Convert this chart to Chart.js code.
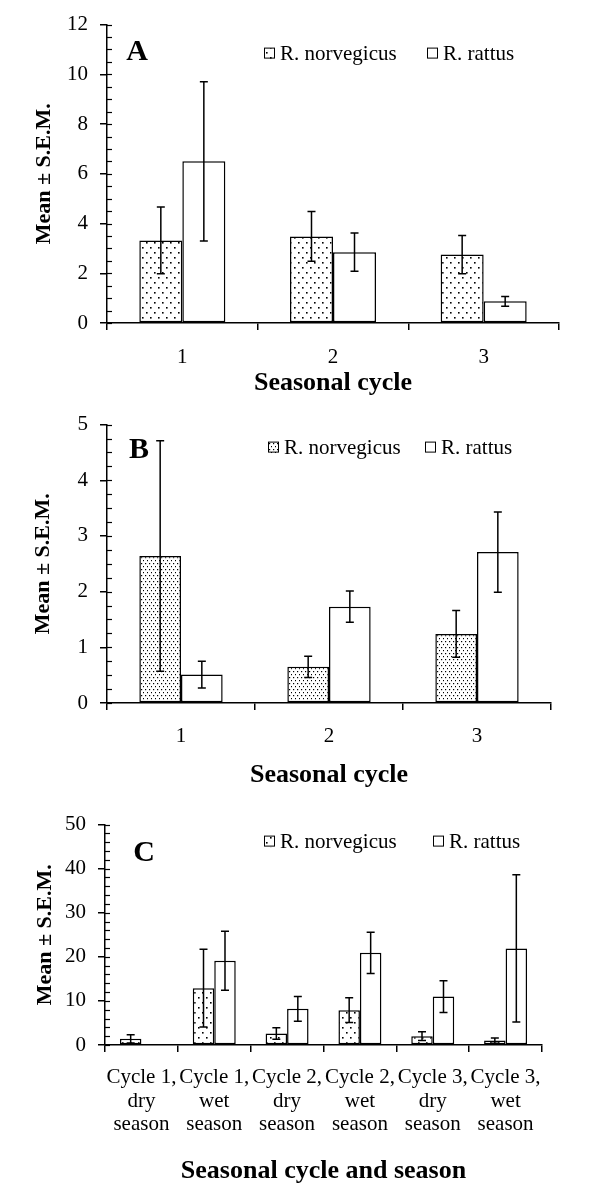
<!DOCTYPE html>
<html><head><meta charset="utf-8">
<script src="https://cdn.jsdelivr.net/npm/chart.js@4.4.1/dist/chart.umd.min.js"></script>
<style>
html,body{margin:0;padding:0;background:#fff;}
#wrap{position:relative;width:600px;height:1198px;overflow:hidden;}
canvas{position:absolute;left:0;}
</style></head><body>
<div id="wrap">
<canvas id="cA" width="600" height="400" style="top:0px"></canvas>
<canvas id="cB" width="600" height="400" style="top:400px"></canvas>
<canvas id="cC" width="600" height="398" style="top:800px"></canvas>
</div>
<script>
// ---------- DATA ----------
const seriesNames = ['R. norvegicus', 'R. rattus'];
const yAxisTitle = 'Mean \u00B1 S.E.M.';

// Panel A
const cyclesA = ['1', '2', '3'];
const norvA = [3.32, 3.48, 2.75];
const norvSemA = [1.34, 1.0, 0.77];
const rattusA = [6.5, 2.85, 0.87];
const rattusSemA = [3.2, 0.77, 0.2];
const yMajorA = [0, 2, 4, 6, 8, 10, 12];
const yMinorStepA = 0.5;

// Panel B
const cyclesB = ['1', '2', '3'];
const norvB = [2.64, 0.65, 1.24];
const norvSemB = [2.07, 0.19, 0.42];
const rattusB = [0.51, 1.73, 2.71];
const rattusSemB = [0.24, 0.28, 0.72];
const yMajorB = [0, 1, 2, 3, 4, 5];
const yMinorStepB = 0.25;

// Panel C
const seasonsC = [
  ['Cycle 1,', 'dry', 'season'],
  ['Cycle 1,', 'wet', 'season'],
  ['Cycle 2,', 'dry', 'season'],
  ['Cycle 2,', 'wet', 'season'],
  ['Cycle 3,', 'dry', 'season'],
  ['Cycle 3,', 'wet', 'season']
];
const norvC = [1.4, 12.9, 2.6, 7.9, 2.0, 1.0];
const norvSemC = [0.95, 8.8, 1.3, 2.8, 1.0, 0.6];
const rattusC = [null, 19.1, 8.2, 20.9, 11.0, 21.9];
const rattusSemC = [null, 6.7, 2.8, 4.7, 3.6, 16.7];
const yMajorC = [0, 10, 20, 30, 40, 50];
const yMinorStepC = 2;

// ---------- STYLE HELPERS ----------
const SERIF = '"Liberation Serif", "Times New Roman", serif';

function dotPattern(w, h, dots, r) {
  const c = document.createElement('canvas');
  c.width = w; c.height = h;
  const g = c.getContext('2d');
  g.fillStyle = '#fff';
  g.fillRect(0, 0, w, h);
  g.fillStyle = '#000';
  dots.forEach(d => { g.fillRect(d[0], d[1], r, r); });
  return g.createPattern(c, 'repeat');
}
const sparseDots = dotPattern(8, 10, [[2, 2], [6, 7]], 1.6);
const denseDots = dotPattern(4, 6, [[1, 1], [3, 4]], 1.2);

const errorBars = {
  id: 'errorBars',
  afterDatasetsDraw(chart) {
    const g = chart.ctx;
    const ys = chart.scales.y;
    g.save();
    g.strokeStyle = '#000';
    g.lineWidth = 1.5;
    chart.data.datasets.forEach((ds, i) => {
      const meta = chart.getDatasetMeta(i);
      meta.data.forEach((bar, j) => {
        const v = ds.data[j], s = ds.sem[j];
        if (v == null || s == null) return;
        const yHi = ys.getPixelForValue(v + s);
        const yLo = ys.getPixelForValue(Math.max(0, v - s));
        const x = bar.x, cw = 4;
        g.beginPath();
        g.moveTo(x, yHi); g.lineTo(x, yLo);
        g.moveTo(x - cw, yHi); g.lineTo(x + cw, yHi);
        g.moveTo(x - cw, yLo); g.lineTo(x + cw, yLo);
        g.stroke();
      });
    });
    g.restore();
  }
};

const panelDecor = {
  id: 'panelDecor',
  afterDraw(chart, args, opts) {
    const g = chart.ctx;
    const a = chart.chartArea;
    const ys = chart.scales.y;
    g.save();
    // inner (minor + major) tick marks
    g.strokeStyle = '#000';
    g.lineWidth = 1.2;
    ys.ticks.forEach(t => {
      const y = Math.round(ys.getPixelForValue(t.value)) + 0.5;
      g.beginPath();
      g.moveTo(a.left, y); g.lineTo(a.left + 5, y);
      g.stroke();
    });
    // panel letter
    g.fillStyle = '#000';
    g.font = 'bold 30px ' + SERIF;
    g.textAlign = 'center';
    g.textBaseline = 'middle';
    g.fillText(opts.letter, a.left + opts.letterX, a.top + opts.letterY);
    // legend
    g.font = '21px ' + SERIF;
    g.textAlign = 'left';
    chart.data.datasets.forEach((ds, i) => {
      const bx = a.left + opts.legendX[i];
      const by = a.top + opts.legendY;
      g.fillStyle = ds.backgroundColor;
      g.fillRect(bx, by - 5.5, 11, 11);
      g.lineWidth = 1;
      g.strokeStyle = '#000';
      g.strokeRect(bx + 0.5, by - 5.5, 10, 10);
      g.fillStyle = '#000';
      g.fillText(ds.label, bx + 16, by + 1);
    });
    g.restore();
  }
};

function makePanel(id, p) {
  const major = p.yMajor;
  const majorStep = major[1] - major[0];
  const isMajor = v => Math.abs(v / majorStep - Math.round(v / majorStep)) < 1e-6;
  return new Chart(document.getElementById(id), {
    type: 'bar',
    data: {
      labels: p.labels,
      datasets: [
        { label: seriesNames[0], data: p.norv, sem: p.norvSem, backgroundColor: p.pattern,
          borderColor: '#000', borderWidth: 1.5, borderSkipped: false,
          barPercentage: 1, categoryPercentage: p.catPct },
        { label: seriesNames[1], data: p.rattus, sem: p.rattusSem, backgroundColor: '#fff',
          borderColor: '#000', borderWidth: 1.5, borderSkipped: false,
          barPercentage: 1, categoryPercentage: p.catPct }
      ]
    },
    options: {
      responsive: false,
      animation: false,
      devicePixelRatio: 1,
      layout: { padding: { top: p.padTop, right: p.padRight, left: 0, bottom: 0 } },
      plugins: {
        legend: { display: false },
        tooltip: { enabled: false },
        panelDecor: { letter: p.letter, letterX: p.letterX, letterY: p.letterY,
                      legendX: p.legendX, legendY: p.legendY }
      },
      scales: {
        x: {
          grid: { offset: true, drawOnChartArea: false, drawTicks: true, tickLength: 7,
                  color: '#000', lineWidth: 1.5 },
          border: { display: true, color: '#000', width: 1.5 },
          ticks: { color: '#000', font: { family: SERIF, size: 21, lineHeight: 1.12 }, padding: p.xPad,
                   autoSkip: false, maxRotation: 0, minRotation: 0 },
          title: { display: true, text: p.xTitle, color: '#000',
                   font: { family: SERIF, size: 26, weight: 'bold' },
                   padding: { top: 0, bottom: p.xTitlePad } },
          afterFit: s => { s.height = p.xHeight; }
        },
        y: {
          min: major[0], max: major[major.length - 1],
          ticks: { stepSize: p.minorStep, autoSkip: false, color: '#000', padding: 12,
                   font: { family: SERIF, size: 21 },
                   callback: v => (isMajor(v) ? String(Math.round(v)) : '') },
          grid: { drawOnChartArea: false, drawTicks: true, tickLength: 7, lineWidth: 1.5,
                  tickColor: c => (c.tick && isMajor(c.tick.value) ? '#000' : 'rgba(0,0,0,0)') },
          border: { display: true, color: '#000', width: 1.5 },
          title: { display: true, text: yAxisTitle, color: '#000',
                   font: { family: SERIF, size: 22, weight: 'bold' },
                   padding: { top: p.yTitlePad, bottom: 0 } },
          afterFit: s => { s.width = p.yWidth; }
        }
      }
    },
    plugins: [errorBars, panelDecor]
  });
}

makePanel('cA', {
  labels: cyclesA, norv: norvA, norvSem: norvSemA, rattus: rattusA, rattusSem: rattusSemA,
  yMajor: yMajorA, minorStep: yMinorStepA, pattern: sparseDots, catPct: 0.571,
  padTop: 22, padRight: 41, yWidth: 107, xHeight: 77, xPad: 16, xTitlePad: 1, yTitlePad: 31,
  xTitle: 'Seasonal cycle', letter: 'A', letterX: 30, letterY: 28,
  legendX: [157, 320], legendY: 29
});
makePanel('cB', {
  labels: cyclesB, norv: norvB, norvSem: norvSemB, rattus: rattusB, rattusSem: rattusSemB,
  yMajor: yMajorB, minorStep: yMinorStepB, pattern: denseDots, catPct: 0.563,
  padTop: 20, padRight: 49, yWidth: 107, xHeight: 97, xPad: 15, xTitlePad: 9, yTitlePad: 30,
  xTitle: 'Seasonal cycle', letter: 'B', letterX: 32, letterY: 26,
  legendX: [161, 318], legendY: 23
});
makePanel('cC', {
  labels: seasonsC, norv: norvC, norvSem: norvSemC, rattus: rattusC, rattusSem: rattusSemC,
  yMajor: yMajorC, minorStep: yMinorStepC, pattern: sparseDots, catPct: 0.59,
  padTop: 16, padRight: 58, yWidth: 105, xHeight: 153, xPad: 14, xTitlePad: 11, yTitlePad: 32,
  xTitle: 'Seasonal cycle and season', letter: 'C', letterX: 39, letterY: 29,
  legendX: [159, 328], legendY: 17
});
</script>
</body></html>
